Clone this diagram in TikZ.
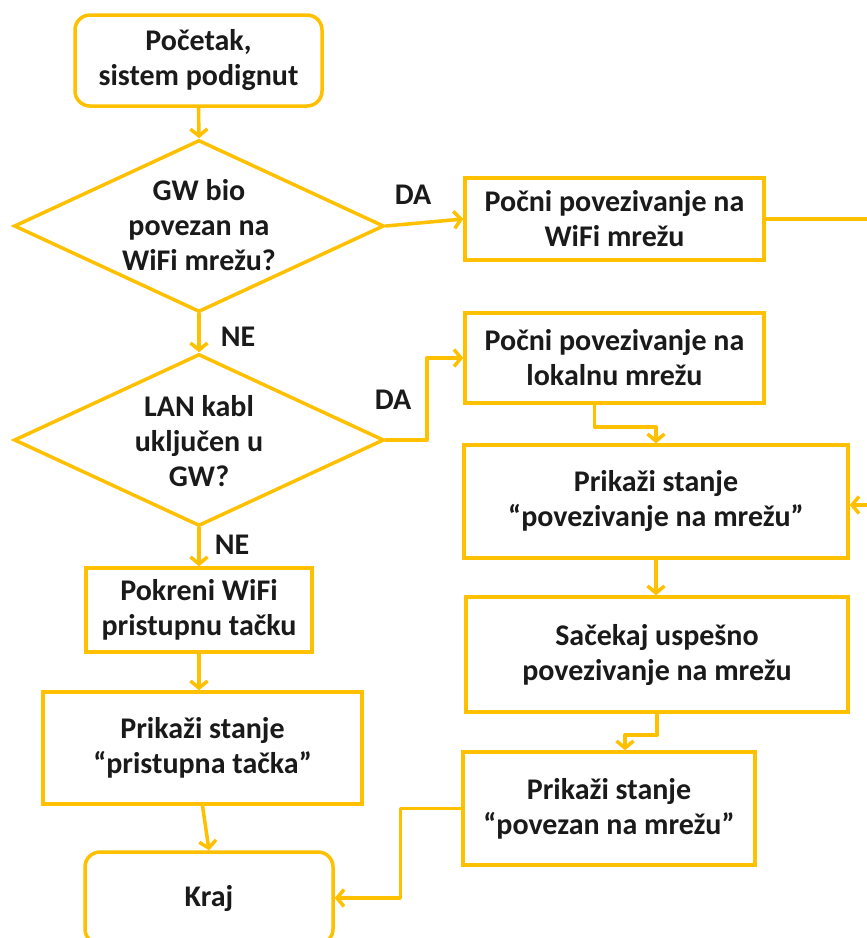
\documentclass[tikz,border=0pt]{standalone}
\usepackage{fontspec}
\setmainfont{Carlito}
\usetikzlibrary{arrows.meta,shapes.geometric}
\definecolor{flowline}{HTML}{FFC000}
\definecolor{flowtext}{HTML}{1A1A1A}
\begin{document}
\begin{tikzpicture}[x=1pt,y=-1pt,
  every node/.style={font=\fontsize{30}{35}\selectfont\bfseries, text=flowtext},
  stepbox/.style={draw=flowline, line width=3.5pt, fill=white, align=center,
    inner sep=0pt},
  termbox/.style={stepbox, rounded corners=15pt},
  decision/.style={diamond, draw=flowline, line width=3.5pt, fill=white,
    inner sep=0pt, minimum width=370pt, minimum height=172pt, aspect=2.15},
  txt/.style={align=center, inner sep=0pt},
  answer/.style={inner sep=0pt},
  flow/.style={draw=flowline, line width=3.5pt, line cap=round, line join=round,
    -{Straight Barb[length=7pt,width=17pt,line width=3.5pt]}},
  plain/.style={draw=flowline, line width=3.5pt, line cap=round, line join=round}]
\clip (0,0) rectangle (867,938);
\fill[white] (0,0) rectangle (867,938);

% left column
\node[termbox, minimum width=247pt, minimum height=91pt] (start) at (198.5,60.5)
  {Početak,\\sistem podignut};
\node[decision] (d1) at (199,226) {};
\node[txt] (d1t) at (199,225) {GW bio\\povezan na\\WiFi mrežu?};
\node[decision] (d2) at (199,440) {};
\node[txt] (d2t) at (199,441) {LAN kabl\\uključen u\\GW?};
\node[stepbox, minimum width=226pt, minimum height=84pt] (ap) at (199,610)
  {Pokreni WiFi\\pristupnu tačku};
\node[stepbox, minimum width=319pt, minimum height=112pt] (st3) at (202.5,748)
  {Prikaži stanje\\“pristupna tačka”};
\node[termbox, minimum width=248pt, minimum height=92pt] (kraj) at (209,898)
  {Kraj};

% right column
\node[stepbox, minimum width=299pt, minimum height=82pt] (wifi) at (614.5,219)
  {Počni povezivanje na\\WiFi mrežu};
\node[stepbox, minimum width=299pt, minimum height=90pt] (lan) at (614.5,358)
  {Počni povezivanje na\\lokalnu mrežu};
\node[stepbox, minimum width=384pt, minimum height=113pt] (st1) at (656,501.5)
  {Prikaži stanje\\“povezivanje na mrežu”};
\node[stepbox, minimum width=382pt, minimum height=115pt] (wait) at (657,654.5)
  {Sačekaj uspešno\\povezivanje na mrežu};
\node[stepbox, minimum width=292pt, minimum height=113pt] (st2) at (609,808.5)
  {Prikaži stanje\\“povezan na mrežu”};

% branch labels
\node[answer] (da1) at (413,195) {DA};
\node[answer] (ne1) at (238,337) {NE};
\node[answer] (da2) at (393,400) {DA};
\node[answer] (ne2) at (232,545) {NE};

% free ends of the connectors that leave on the right
\coordinate (outwifi) at (867,219);
\coordinate (inwait) at (867,505);

% connectors
\draw[flow] (start.south) -- (d1.north);
\draw[flow] (d1.east) -- (wifi.west);
\draw[plain] (wifi.east) -- (outwifi);
\draw[flow] (d1.south) -- (d2.north);
\draw[flow] (d2.east) -- ++(41,0) |- (lan.west);
\draw[flow] (d2.south) -- (ap.north);
\draw[flow] (ap.south) -- (ap.south |- st3.north);
\draw[flow] (st3.south) -- (kraj.north);
\draw[flow] ([xshift=-20pt]lan.south) -- ++(0,22) -| (st1.north);
\draw[flow] (inwait) -- (inwait -| st1.east);
\draw[flow] (st1.south) -- (st1.south |- wait.north);
\draw[flow] (wait.south) -- ++(0,21) -| ([xshift=16pt]st2.north);
\draw[flow] (st2.west) -- ++(-61,0) |- (kraj.east);
\end{tikzpicture}
\end{document}
